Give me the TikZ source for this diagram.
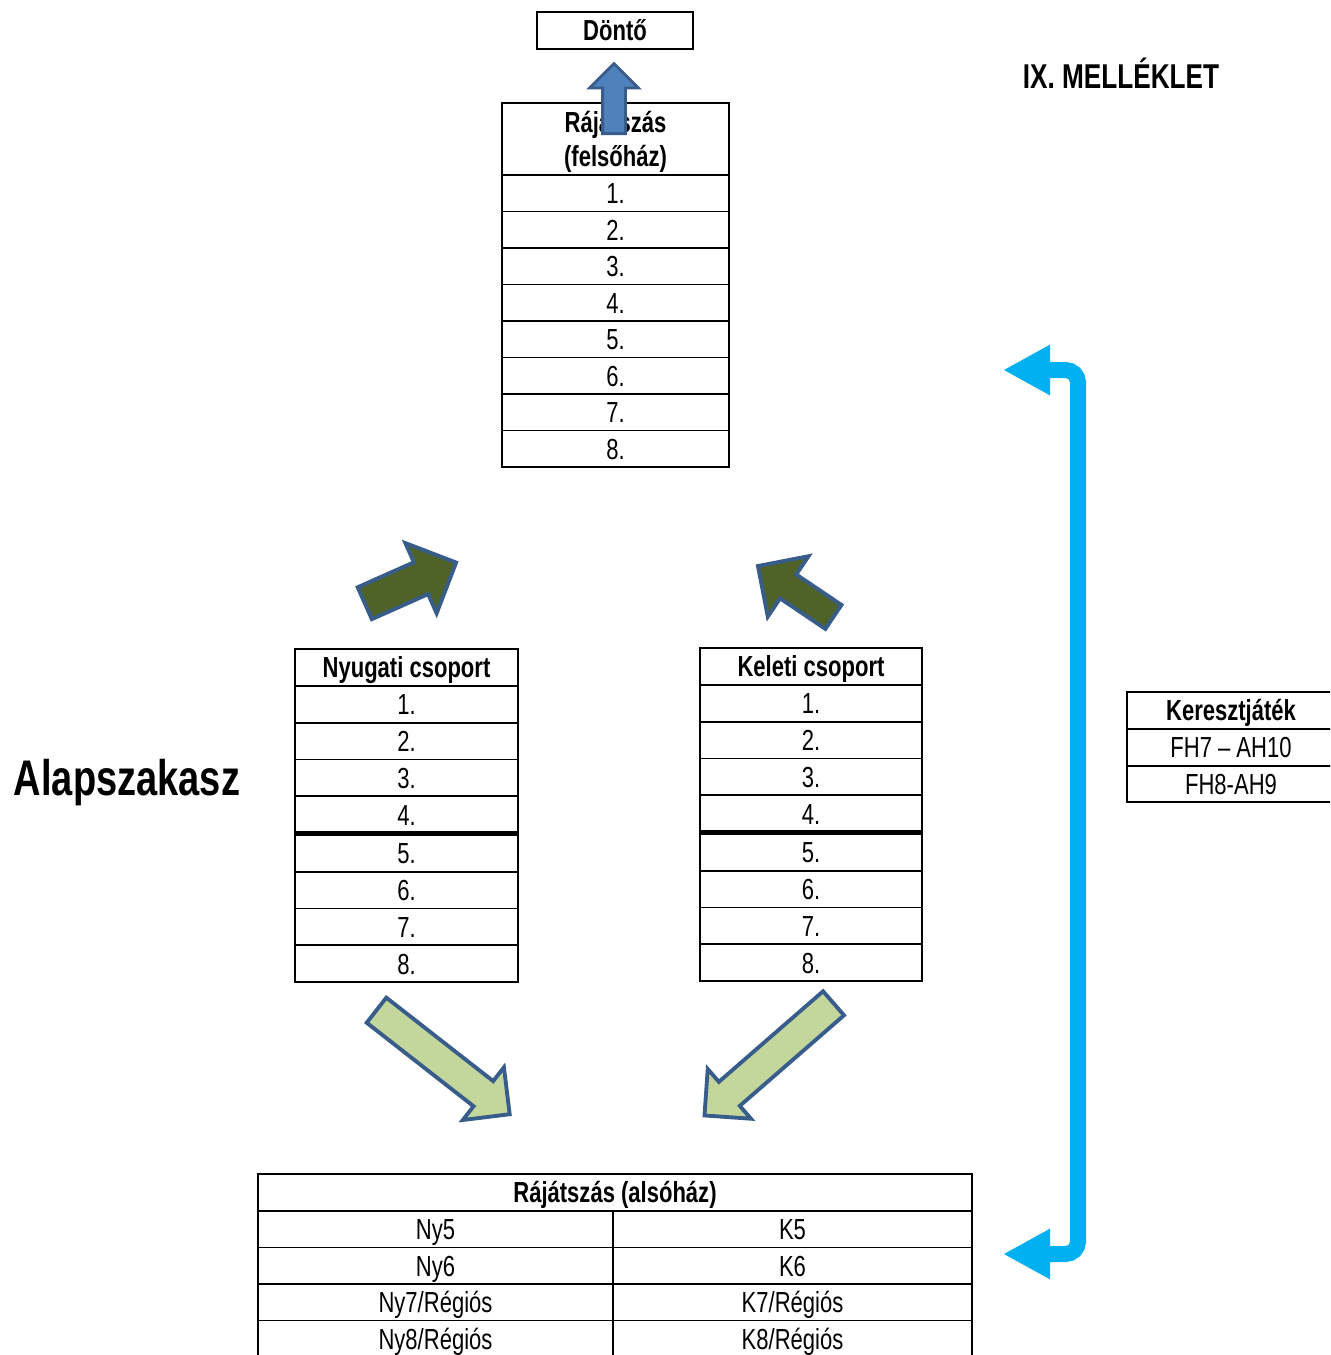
\documentclass[tikz,border=0pt]{standalone}
\usepackage{fontspec}
\setmainfont{Liberation Sans}[FakeStretch=0.76]
\usetikzlibrary{arrows.meta,shapes.arrows,positioning}
\definecolor{arrowrim}{HTML}{385D8A}
\definecolor{darkolive}{HTML}{4F6228}
\definecolor{palegreen}{HTML}{C3D69B}
\definecolor{steelblue}{HTML}{4F81BD}
\definecolor{skyline}{HTML}{00B0F0}
\newcommand\pxu{0.02cm}

\begin{document}
\begin{tikzpicture}[x=0.02cm,y=-0.02cm,
  box/.style={draw,line width=1.1pt,inner sep=0pt,outer sep=0pt,font=\fontsize{16.5}{19.3}\selectfont},
  entry/.style={box,minimum height=36.5*\pxu,text height=11.8pt,text depth=0pt},
  title/.style={entry,font=\fontsize{16.5}{19.3}\selectfont\bfseries},
  cut/.style={line width=2.4pt},
  fatarrow/.style n args={3}{single arrow,draw=arrowrim,line width=2.2pt,inner xsep=0pt,anchor=tail,
    minimum height=#1*\pxu,inner ysep=#2/2*\pxu,single arrow head extend={(#3-#2)/2*\pxu}},
  crosslink/.style={draw=skyline,line width=0.32cm,rounded corners=0.25cm,
    arrows={Triangle[length=0.94cm,width=0.94cm]-Triangle[length=0.94cm,width=0.94cm]}}]
\path[use as bounding box,clip] (0,0) rectangle (1330,1355);

\node[title,minimum width=156*\pxu,minimum height=37*\pxu] (donto) at (615,30.5) {Döntő};
\node[anchor=base,font=\bfseries\fontsize{19.6}{22}\selectfont] (mell) at (1121,89) {IX. MELLÉKLET};
\node[anchor=base,font=\bfseries\fontsize{28.5}{32}\selectfont] (alap) at (127,795) {Alapszakasz};

% felsohaz
\node[box,minimum width=227*\pxu,minimum height=72*\pxu] (fhead) at (615.5,139) {};
\node[font=\fontsize{16.5}{19.3}\selectfont\bfseries,align=center,inner sep=0pt] (fhtext) at (615.5,142) {Rájátszás\\(felsőház)};
\foreach \i in {1,...,8}
  \node[entry,minimum width=227*\pxu] (fh\i) at (615.5,{175+36.5*(\i-0.5)}) {\i.};

% csoportok
\node[title,minimum width=223*\pxu,minimum height=37*\pxu] (nyhead) at (406.5,667.5) {Nyugati csoport};
\foreach \i in {1,...,4}
  \node[entry,minimum width=223*\pxu,minimum height=36.75*\pxu] (ny\i) at (406.5,{686+36.75*(\i-0.5)}) {\i.};
\foreach \i in {5,...,8}
  \node[entry,minimum width=223*\pxu,minimum height=36.75*\pxu] (ny\i) at (406.5,{835+36.75*(\i-4.5)}) {\i.};
\draw[cut] (ny4.south west) -- (ny4.south east);

\node[title,minimum width=222*\pxu,minimum height=37*\pxu] (khead) at (811,666.5) {Keleti csoport};
\foreach \i in {1,...,4}
  \node[entry,minimum width=222*\pxu,minimum height=36.75*\pxu] (k\i) at (811,{685+36.75*(\i-0.5)}) {\i.};
\foreach \i in {5,...,8}
  \node[entry,minimum width=222*\pxu,minimum height=36.75*\pxu] (k\i) at (811,{834+36.75*(\i-4.5)}) {\i.};
\draw[cut] (k4.south west) -- (k4.south east);

\node[title,minimum width=208*\pxu,minimum height=37*\pxu] (kj) at (1231,710.5) {Keresztjáték};
\node[entry,minimum width=208*\pxu,minimum height=37*\pxu] (kj1) at (1231,747.5) {FH7 – AH10};
\node[entry,minimum width=208*\pxu] (kj2) at (1231,784) {FH8-AH9};

% alsohaz
\node[title,minimum width=714*\pxu,minimum height=37*\pxu] (ahead) at (615,1192.5) {Rájátszás (alsóház)};
\foreach \i in {5,...,8} {
  \node[entry,minimum width=355*\pxu] (ahny\i) at (435.5,{1211+36.5*(\i-4.5)}) {Ny\i\ifnum\i>6 /Régiós\fi};
  \node[entry,minimum width=359*\pxu] (ahk\i) at (792.5,{1211+36.5*(\i-4.5)}) {K\i\ifnum\i>6 /Régiós\fi};
}

\node[fatarrow={100}{31}{73},fill=darkolive,rotate=24] (wup) at (363,604) {};
\node[fatarrow={91}{25}{69},fill=darkolive,rotate=146] (eup) at (835,618) {};
\node[fatarrow={169}{28}{63},fill=palegreen,rotate=-38] (wdown) at (375,1009) {};
\node[fatarrow={171}{28}{62},fill=palegreen,rotate=-139] (edown) at (835,1002) {};
\node[fatarrow={70}{20}{46},fill=steelblue,line width=1.6pt,rotate=90] (final) at (614,135) {};

\coordinate (topend) at (1003,370);
\coordinate (bend) at (1078,1254);
\coordinate (botend) at (1003,1254);
\draw[crosslink] (topend) -| (bend) -- (botend);

\end{tikzpicture}
\end{document}
